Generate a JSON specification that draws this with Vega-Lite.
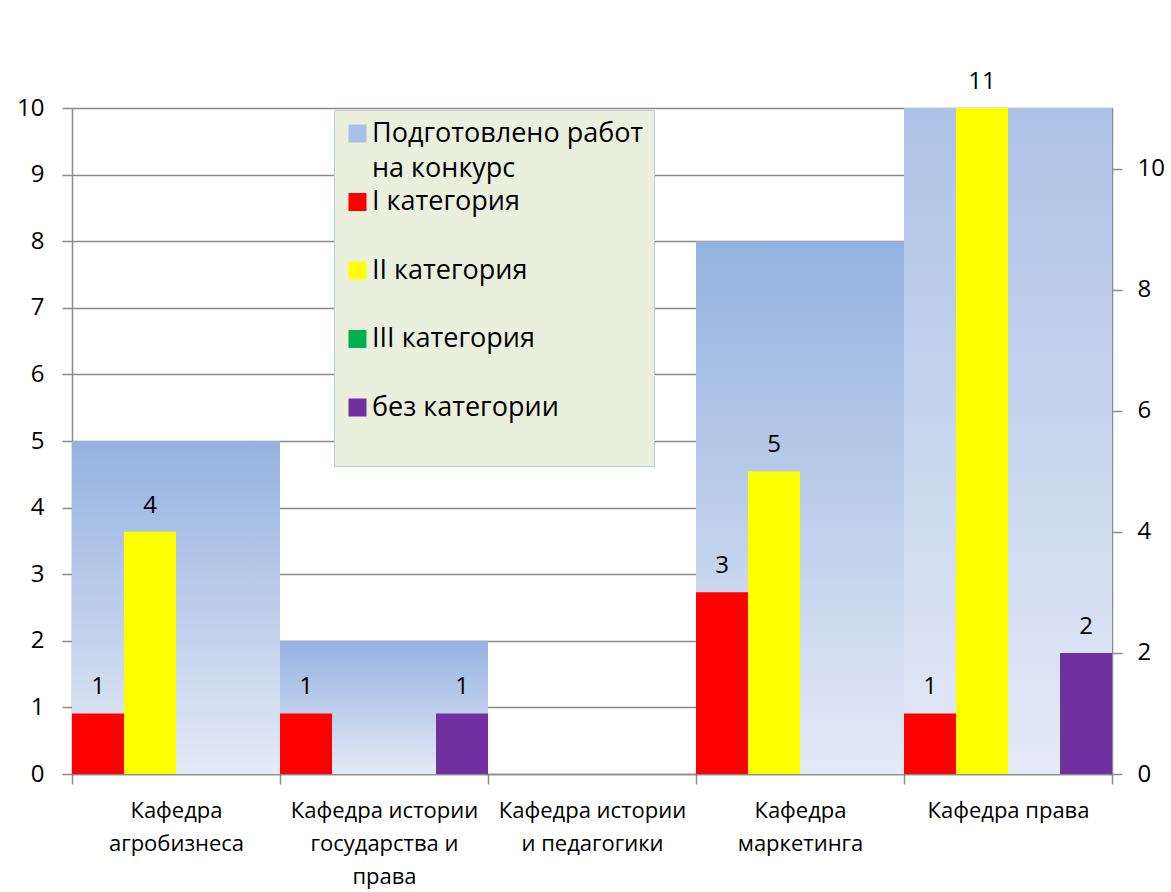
{
  "$schema": "https://vega.github.io/schema/vega-lite/v6.json",
  "width": 1040,
  "height": 666,
  "autosize": {"type": "none"},
  "padding": {"left": 72, "top": 108, "right": 59, "bottom": 118},
  "background": "white",
  "config": {
    "view": {"stroke": null},
    "font": "Open Sans",
    "axis": {
      "labelFont": "Open Sans",
      "labelColor": "#000000",
      "domainColor": "#8a8a8a",
      "domainWidth": 1.5,
      "tickColor": "#8a8a8a",
      "tickWidth": 1.5,
      "tickSize": 10,
      "gridColor": "#8a8a8a",
      "gridWidth": 1.5,
      "title": null
    }
  },
  "datasets": {
    "prepared": [
      {"dept": "Кафедра агробизнеса", "series": "Подготовлено работ на конкурс", "value": 5},
      {"dept": "Кафедра истории государства и права", "series": "Подготовлено работ на конкурс", "value": 2},
      {"dept": "Кафедра истории и педагогики", "series": "Подготовлено работ на конкурс", "value": 0},
      {"dept": "Кафедра маркетинга", "series": "Подготовлено работ на конкурс", "value": 8},
      {"dept": "Кафедра права", "series": "Подготовлено работ на конкурс", "value": 14}
    ],
    "categories": [
      {"dept": "Кафедра агробизнеса", "series": "I категория", "value": 1},
      {"dept": "Кафедра агробизнеса", "series": "II категория", "value": 4},
      {"dept": "Кафедра истории государства и права", "series": "I категория", "value": 1},
      {"dept": "Кафедра истории государства и права", "series": "без категории", "value": 1},
      {"dept": "Кафедра маркетинга", "series": "I категория", "value": 3},
      {"dept": "Кафедра маркетинга", "series": "II категория", "value": 5},
      {"dept": "Кафедра права", "series": "I категория", "value": 1},
      {"dept": "Кафедра права", "series": "II категория", "value": 11},
      {"dept": "Кафедра права", "series": "без категории", "value": 2}
    ]
  },
  "encoding": {
    "x": {
      "field": "dept",
      "type": "nominal",
      "scale": {
        "domain": ["Кафедра агробизнеса", "Кафедра истории государства и права", "Кафедра истории и педагогики", "Кафедра маркетинга", "Кафедра права"],
        "paddingInner": 0,
        "paddingOuter": 0
      },
      "axis": {
        "orient": "bottom",
        "labelAngle": 0,
        "labelFontSize": 22,
        "labelLineHeight": 33,
        "labelPadding": 16,
        "labelLimit": 400,
        "tickBand": "extent",
        "labelExpr": "datum.value == 'Кафедра агробизнеса' ? ['Кафедра', 'агробизнеса'] : datum.value == 'Кафедра истории государства и права' ? ['Кафедра истории', 'государства и', 'права'] : datum.value == 'Кафедра истории и педагогики' ? ['Кафедра истории', 'и педагогики'] : datum.value == 'Кафедра маркетинга' ? ['Кафедра', 'маркетинга'] : datum.value"
      }
    }
  },
  "layer": [
    {
      "data": {"name": "prepared"},
      "mark": {
        "type": "bar",
        "clip": true,
        "fill": {"gradient": "linear", "x1": 0, "y1": 0, "x2": 0, "y2": 1, "stops": [{"offset": 0, "color": "#95B2E0"}, {"offset": 1, "color": "#E4EAF6"}]}
      },
      "encoding": {
        "y": {
          "field": "value",
          "type": "quantitative",
          "scale": {"domain": [0, 10], "nice": false, "zero": true},
          "axis": {
            "orient": "left",
            "values": [0, 1, 2, 3, 4, 5, 6, 7, 8, 9, 10],
            "grid": true,
            "labelFontSize": 24,
            "labelPadding": 18
          }
        }
      }
    },
    {
      "data": {"name": "categories"},
      "encoding": {
        "xOffset": {
          "field": "series",
          "type": "nominal",
          "scale": {"domain": ["I категория", "II категория", "III категория", "без категории"], "paddingInner": 0, "paddingOuter": 0}
        },
        "y": {
          "field": "value",
          "type": "quantitative",
          "scale": {"domain": [0, 11], "nice": false, "zero": true},
          "axis": {
            "orient": "right",
            "values": [0, 2, 4, 6, 8, 10],
            "grid": false,
            "labelFontSize": 24,
            "labelPadding": 15
          }
        }
      },
      "layer": [
        {
          "mark": {"type": "bar"},
          "encoding": {
            "color": {
              "field": "series",
              "type": "nominal",
              "scale": {
                "domain": ["Подготовлено работ на конкурс", "I категория", "II категория", "III категория", "без категории"],
                "range": ["#A8BFE6", "#FF0000", "#FFFF00", "#00B050", "#7030A0"]
              },
              "legend": {
                "title": null,
                "orient": "none",
                "direction": "vertical",
                "legendX": 262,
                "legendY": 2,
                "fillColor": "#EBF0DE",
                "strokeColor": "#B9CDE5",
                "padding": 10,
                "labelFont": "Open Sans",
                "labelFontSize": 27,
                "labelColor": "#000000",
                "labelLimit": 400,
                "labelOffset": 1,
                "rowPadding": 5.5,
                "symbolType": "square",
                "symbolSize": 324,
                "symbolStrokeWidth": 0,
                "labelExpr": "datum.label == 'Подготовлено работ на конкурс' ? ['Подготовлено работ', 'на конкурс'] : [datum.label, '']",
                "encode": {"labels": {"update": {"lineHeight": {"value": 35}}}}
              }
            }
          }
        },
        {
          "mark": {"type": "text", "dy": -26, "fontSize": 24, "font": "Open Sans", "color": "#000000", "baseline": "middle"},
          "encoding": {
            "text": {"field": "value", "type": "quantitative"}
          }
        }
      ]
    }
  ],
  "resolve": {"scale": {"y": "independent"}}
}
